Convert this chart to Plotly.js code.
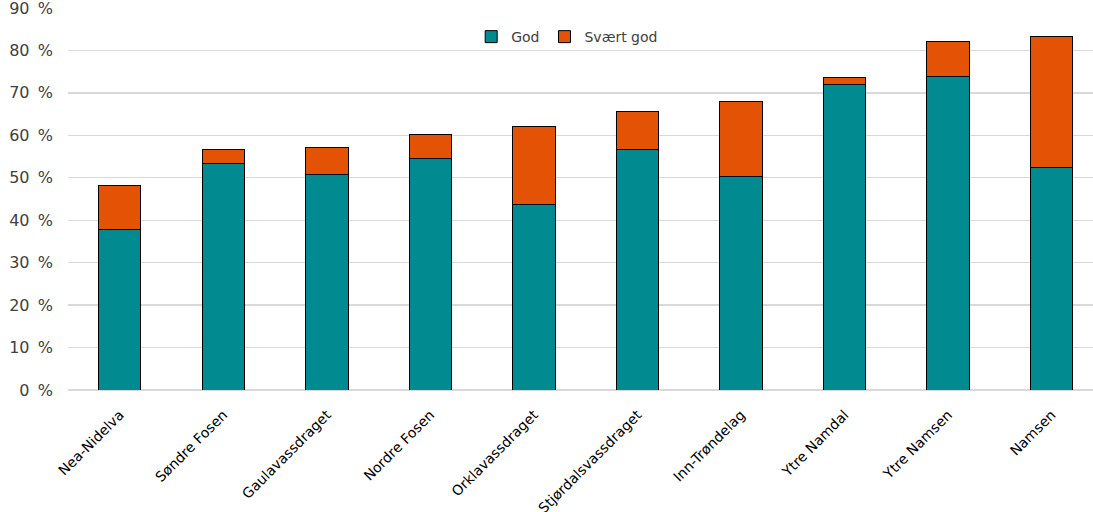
<!DOCTYPE html>
<html>
<head>
<meta charset="utf-8">
<script src="https://cdn.plot.ly/plotly-3.0.1.min.js"></script>
<style>html,body{margin:0;padding:0;overflow:hidden;background:#fff}</style>
</head>
<body>
<div id="chart" style="width:1093px;height:512px"></div>
<script>
const categories = ["Nea-Nidelva","Søndre Fosen","Gaulavassdraget","Nordre Fosen","Orklavassdraget","Stjørdalsvassdraget","Inn-Trøndelag","Ytre Namdal","Ytre Namsen","Namsen"];
const god = [37.9, 53.4, 50.8, 54.5, 43.8, 56.6, 50.3, 71.9, 73.9, 52.5];
const svaertGod = [10.3, 3.2, 6.4, 5.8, 18.2, 8.9, 17.6, 1.7, 8.2, 30.9];
const yTicks = [0,10,20,30,40,50,60,70,80,90];
const yTickLabels = yTicks.map(v => v + "\u00a0\u2009%");

const traces = [
  {type:'bar', name:'God', x:categories, y:god, width:0.41,
   marker:{color:'#028A91', line:{color:'#000000', width:1}}},
  {type:'bar', name:'Svært god', x:categories, y:svaertGod, width:0.41,
   marker:{color:'#E35205', line:{color:'#000000', width:1}}}
];
const layout = {
  width:1093, height:512,
  margin:{l:68, r:0, t:8, b:122},
  barmode:'stack',
  paper_bgcolor:'#ffffff', plot_bgcolor:'#ffffff',
  font:{family:'"DejaVu Sans", Verdana, sans-serif', color:'#404040'},
  showlegend:true,
  legend:{orientation:'h', x:0.487, xanchor:'center', y:0.924, yanchor:'middle',
          font:{size:14, color:'#404040'}, itemwidth:30,
          bgcolor:'rgba(0,0,0,0)', traceorder:'normal'},
  xaxis:{range:[-0.5, 9.4], tickangle:-45, tickfont:{size:14, color:'#000000'},
         showgrid:false, showline:false, ticks:'', zeroline:false, fixedrange:true, ticklabelstandoff:13},
  yaxis:{range:[0,90], tickvals:yTicks, ticktext:yTickLabels, tickfont:{size:16, color:'#404040'},
         showgrid:true, gridcolor:'#d9d9d9', gridwidth:1.3, zeroline:true, zerolinecolor:'#d9d9d9', zerolinewidth:1.3,
         showline:false, ticks:'', ticklabelstandoff:14, ticklabeloverflow:'allow', fixedrange:true, automargin:false}
};
Plotly.newPlot('chart', traces, layout, {displayModeBar:false, staticPlot:true});
</script>
</body>
</html>
